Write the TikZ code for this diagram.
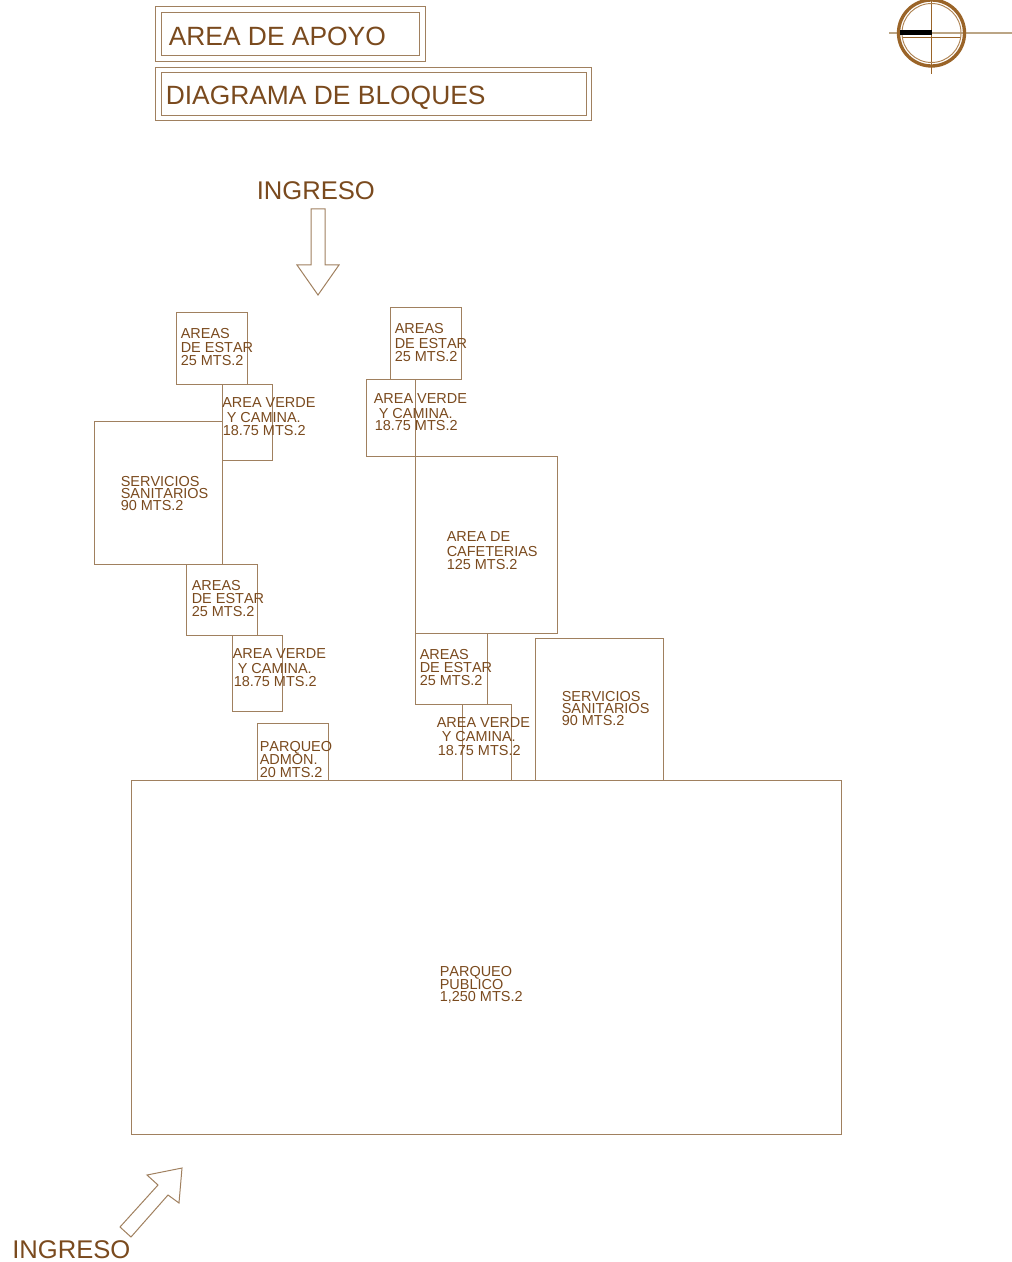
\documentclass[tikz,border=0pt]{standalone}
\usepackage{fontspec}
\setmainfont[Kerning=Off]{Liberation Sans}
\definecolor{txtbrown}{HTML}{7A4A1E}
\definecolor{linetan}{HTML}{A0805F}
\definecolor{ringbrown}{HTML}{9A6428}
\definecolor{axistan}{HTML}{BBA585}
\newcommand{\lab}[4]{\node[smalllab] (#1) at (#2,#3) {#4};}
\tikzset{
  smalllab/.style={anchor=base west,inner sep=0pt,text=txtbrown,font=\fontsize{10.85pt}{10.85pt}\selectfont},
  biglab/.style={anchor=base west,inner sep=0pt,text=txtbrown,font=\fontsize{19.2pt}{19.2pt}\selectfont},
  titlelab/.style={anchor=base west,inner sep=0pt,text=txtbrown,font=\fontsize{19.8pt}{19.8pt}\selectfont},
  wall/.style={draw=linetan,line width=0.75pt},
}
\begin{document}
\begin{tikzpicture}[x=0.75pt,y=-0.75pt]
\useasboundingbox (0,0) rectangle (1012,1262);
% title frames
\draw[wall] (155,7) rectangle (425,62);
\draw[wall] (161,13) rectangle (419,56);
\draw[wall] (155,68) rectangle (591,121);
\draw[wall] (161,73) rectangle (586,116);
% compass
\draw[axistan,line width=0.9pt] (889,33) -- (1012,33);
\draw[ringbrown,line width=0.9pt] (931.5,0) -- (931.5,74);
\draw[ringbrown,line width=0.7pt] (902,37) -- (961,37);
\draw[ringbrown,line width=2.5pt] (931.5,33) circle (33);
\draw[ringbrown!80,line width=0.7pt] (931.5,33) circle (29.5);
\fill[black] (900,30.5) rectangle (931.5,35.5);
% arrows
\draw[wall] (311,209) -- (325,209) -- (325,265) -- (339,265) -- (318,295) -- (297,265) -- (311,265) -- cycle;
\draw[wall] (120,1227) -- (131,1237) -- (168,1195) -- (179,1203) -- (182,1168) -- (147,1175) -- (158,1185) -- cycle;
% blocks
\draw[wall] (176,313) rectangle (247,384);
\draw[wall] (222,384) rectangle (272,460);
\draw[wall] (94,421) rectangle (222,564);
\draw[wall] (186,564) rectangle (257,635);
\draw[wall] (232,635) rectangle (282,711);
\draw[wall] (257,723) rectangle (328,780);
\draw[wall] (131,780) rectangle (841,1134);
\draw[wall] (390,308) rectangle (461,379);
\draw[wall] (366,379) rectangle (415,456);
\draw[wall] (415,456) rectangle (557,633);
\draw[wall] (415,633) rectangle (487,704);
\draw[wall] (462,704) rectangle (511,780);
\draw[wall] (535,638) rectangle (663,780);
% labels
\begin{scope}[shift={(-0.5,0)}]
\node[titlelab] (t1) at (169,45.5) {AREA DE APOYO};
\node[titlelab] (t2) at (166,104.5) {DIAGRAMA DE BLOQUES};
\node[biglab] (ing1) at (257,199.5) {INGRESO};
\node[biglab] (ing2) at (12.5,1258.5) {INGRESO};
\lab{a1}{181}{338.5}{AREAS}\lab{a2}{181}{352}{DE ESTAR}\lab{a3}{181}{365}{25 MTS.2}
\lab{b1}{222.5}{407}{AREA VERDE}\lab{b2}{227}{422}{Y CAMINA.}\lab{b3}{223}{435}{18.75 MTS.2}
\lab{c1}{121}{486}{SERVICIOS}\lab{c2}{121}{498}{SANITARIOS}\lab{c3}{121}{510}{90 MTS.2}
\lab{d1}{192}{590}{AREAS}\lab{d2}{192}{603}{DE ESTAR}\lab{d3}{192}{616}{25 MTS.2}
\lab{e1}{233}{658}{AREA VERDE}\lab{e2}{238}{673}{Y CAMINA.}\lab{e3}{234}{686}{18.75 MTS.2}
\lab{f1}{260}{751}{PARQUEO}\lab{f2}{260}{764}{ADMON.}\lab{f3}{260}{777}{20 MTS.2}
\lab{g1}{395}{334}{AREAS}\lab{g2}{395}{348}{DE ESTAR}\lab{g3}{395}{361}{25 MTS.2}
\lab{h1}{374}{403}{AREA VERDE}\lab{h2}{379}{418}{Y CAMINA.}\lab{h3}{375}{430}{18.75 MTS.2}
\lab{i1}{447}{541}{AREA DE}\lab{i2}{447}{556}{CAFETERIAS}\lab{i3}{447}{569}{125 MTS.2}
\lab{j1}{420}{659}{AREAS}\lab{j2}{420}{672}{DE ESTAR}\lab{j3}{420}{685}{25 MTS.2}
\lab{k1}{437}{727}{AREA VERDE}\lab{k2}{442}{741}{Y CAMINA.}\lab{k3}{438}{755}{18.75 MTS.2}
\lab{m1}{562}{701}{SERVICIOS}\lab{m2}{562}{713}{SANITARIOS}\lab{m3}{562}{725}{90 MTS.2}
\lab{n1}{440}{976}{PARQUEO}\lab{n2}{440}{989}{PUBLICO}\lab{n3}{440}{1001}{1,250 MTS.2}
\end{scope}
\end{tikzpicture}
\end{document}
